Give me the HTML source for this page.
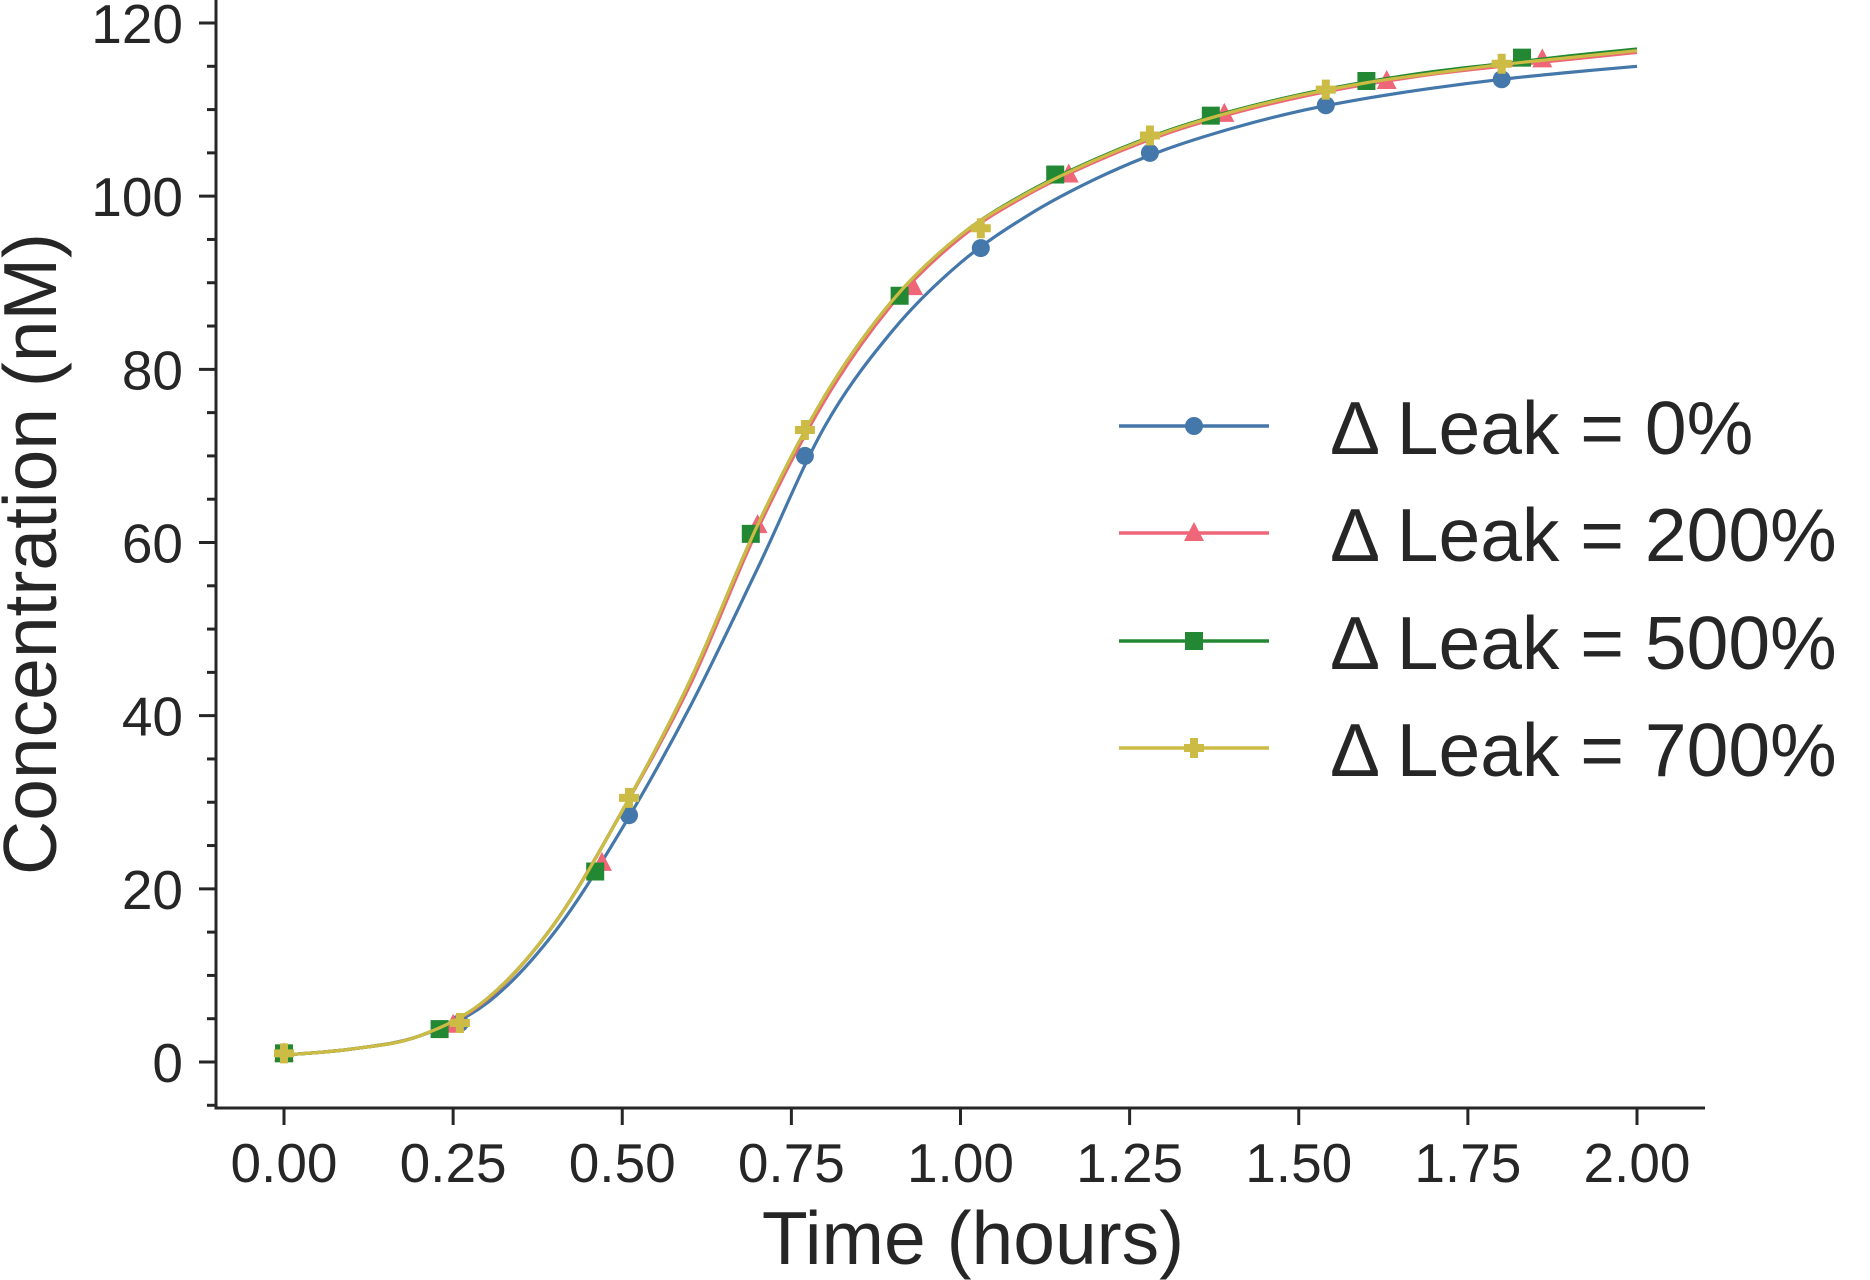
<!DOCTYPE html>
<html><head><meta charset="utf-8"><style>
html,body{margin:0;padding:0;background:#fff;}
svg{display:block;font-family:"Liberation Sans",sans-serif;}
</style></head><body>
<svg id="chart" width="1870" height="1280" viewBox="0 0 1870 1280" xmlns="http://www.w3.org/2000/svg">
<g id="axes"></g>
<g id="series"></g>
<g id="legend"></g>
<text x="973" y="1264" font-size="75" text-anchor="middle" fill="#262626">Time (hours)</text>
<text transform="translate(56,554) rotate(-90)" font-size="75" text-anchor="middle" fill="#262626">Concentration (nM)</text>
</svg>
<script>
const gridT = [0,0.1,0.2,0.3,0.4,0.5,0.6,0.7,0.8,0.9,1.0,1.1,1.2,1.3,1.4,1.5,1.6,1.7,1.8,1.9,2.0];
const curve0   = [0.8,1.5,3.0,6.8,15,27,41,57,73.5,84.5,92.3,97.8,102,105.3,107.8,109.8,111.3,112.5,113.5,114.3,115];
const curve200 = [0.8,1.5,3.0,7.2,16,29,43.5,61.5,76.5,87.6,95.2,100.2,104,107.1,109.5,111.4,112.9,114.1,115,115.8,116.6];
const curve500 = [0.8,1.5,3.0,7.3,16,29,44,62,77,88,95.5,100.5,104.3,107.4,109.8,111.7,113.2,114.4,115.3,116.2,117];
const curve700 = [0.8,1.5,3.0,7.3,16,29,44,62,77,88,95.5,100.4,104.2,107.3,109.7,111.6,113.1,114.2,115.2,116,116.8];
const mk0T = [0,0.26,0.51,0.77,1.03,1.28,1.54,1.80];
const mk0V = [1,4.5,28.5,70,94,105,110.5,113.5];
const mk200T = [0,0.25,0.47,0.70,0.93,1.16,1.39,1.63,1.86];
const mk200V = [1,4.3,23,62,89.5,102.5,109.5,113.3,115.8];
const mk500T = [0,0.23,0.46,0.69,0.91,1.14,1.37,1.60,1.83];
const mk500V = [1,3.8,22,61,88.5,102.5,109.3,113.3,116];
const mk700T = [0,0.26,0.51,0.77,1.03,1.28,1.54,1.80];
const mk700V = [1,4.5,30.5,73,96.3,107,112.3,115.3];
const xTicks = [0,0.25,0.5,0.75,1.0,1.25,1.5,1.75,2.0];
const xTickLabels = ["0.00","0.25","0.50","0.75","1.00","1.25","1.50","1.75","2.00"];
const yTicks = [0,20,40,60,80,100,120];
const yTickLabels = ["0","20","40","60","80","100","120"];
const legendLabels = ["\u0394 Leak = 0%","\u0394 Leak = 200%","\u0394 Leak = 500%","\u0394 Leak = 700%"];

const NS="http://www.w3.org/2000/svg";
const X0=216,X1=1705,Y0=1108,Y1=0;
function xs(t){return 284+(t-0)*(1637-284)/2;}
function ys(v){return 1062-v*(1062-23)/120;}
const ink="#262626";
function mk(tag,attrs,parent){const e=document.createElementNS(NS,tag);for(const k in attrs)e.setAttribute(k,attrs[k]);parent.appendChild(e);return e;}
const axes=document.getElementById('axes');
let sp=mk('line',{x1:X0,y1:Y0,x2:X0,y2:Y1,stroke:ink,'stroke-width':3},axes);


sp=mk('line',{x1:X0-1.5,y1:Y0,x2:X1,y2:Y0,stroke:ink,'stroke-width':3},axes);


xTicks.forEach((t,i)=>{
  const l=mk('line',{x1:xs(t),y1:Y0,x2:xs(t),y2:Y0+17,stroke:ink,'stroke-width':3},axes);
  
  
  const tx=mk('text',{x:xs(t),y:1182,'font-size':55,'text-anchor':'middle',fill:ink},axes);
  tx.textContent=xTickLabels[i];
  
  
});
yTicks.forEach((v,i)=>{
  const l=mk('line',{x1:X0-17,y1:ys(v),x2:X0,y2:ys(v),stroke:ink,'stroke-width':3},axes);
  
  
  const tx=mk('text',{x:183,y:ys(v)+20,'font-size':55,'text-anchor':'end',fill:ink},axes);
  tx.textContent=yTickLabels[i];
  
  
});
for(let v=-5;v<=122;v+=5){ if(v%20===0) continue;
  const l=mk('line',{x1:X0-9,y1:ys(v),x2:X0,y2:ys(v),stroke:ink,'stroke-width':3},axes);
  
  
}
function pathFrom(T,V){
  const P=T.map((t,i)=>[xs(t),ys(V[i])]);
  let d=`M${P[0][0]},${P[0][1]}`;
  for(let i=0;i<P.length-1;i++){
    const p0=P[Math.max(i-1,0)],p1=P[i],p2=P[i+1],p3=P[Math.min(i+2,P.length-1)];
    const c1=[p1[0]+(p2[0]-p0[0])/6,p1[1]+(p2[1]-p0[1])/6];
    const c2=[p2[0]-(p3[0]-p1[0])/6,p2[1]-(p3[1]-p1[1])/6];
    d+=` C${c1[0]},${c1[1]} ${c2[0]},${c2[1]} ${p2[0]},${p2[1]}`;
  }
  return d;
}
function marker(kind,cx,cy,color,parent){
  let e;
  if(kind==='circle') e=mk('ellipse',{cx:cx,cy:cy,rx:9,ry:9,fill:color},parent);
  else if(kind==='tri') e=mk('polygon',{points:`${cx},${cy-11} ${cx-10},${cy+8} ${cx+10},${cy+8}`,fill:color},parent);
  else if(kind==='sq') e=mk('rect',{x:cx-9,y:cy-9,width:18,height:18,fill:color},parent);
  else e=mk('path',{d:`M${cx-4},${cy-10}h8v6h6v8h-6v6h-8v-6h-6v-8h6z`,fill:color},parent);
  return e;
}
const sg=document.getElementById('series');
const defs=[
 {name:'leak-0',c:'#4477AA',curve:curve0,mT:mk0T,mV:mk0V,m:'circle'},
 {name:'leak-200',c:'#EE6677',curve:curve200,mT:mk200T,mV:mk200V,m:'tri'},
 {name:'leak-500',c:'#228833',curve:curve500,mT:mk500T,mV:mk500V,m:'sq'},
 {name:'leak-700',c:'#CCBB44',curve:curve700,mT:mk700T,mV:mk700V,m:'plus'}];
defs.forEach(s=>{
  const g=mk('g',{},sg);
  
  
  const p=mk('path',{d:pathFrom(gridT,s.curve),fill:'none',stroke:s.c,'stroke-width':3.2},g);
  
  
  s.mT.forEach((t,i)=>{
    const m=marker(s.m,xs(t),ys(s.mV[i]),s.c,g);
    
    
  });
});
const lg=document.getElementById('legend');
const rowY=[426,533,641,748];
defs.forEach((s,i)=>{
  const g=mk('g',{},lg);
  
  
  mk('line',{x1:1119,y1:rowY[i],x2:1269,y2:rowY[i],stroke:s.c,'stroke-width':3.5},g);
  marker(s.m,1194,rowY[i],s.c,g);
  const t=mk('text',{x:1330,y:rowY[i]+28,'font-size':75,fill:ink},g);
  t.textContent=legendLabels[i];
});
</script>
</body></html>
